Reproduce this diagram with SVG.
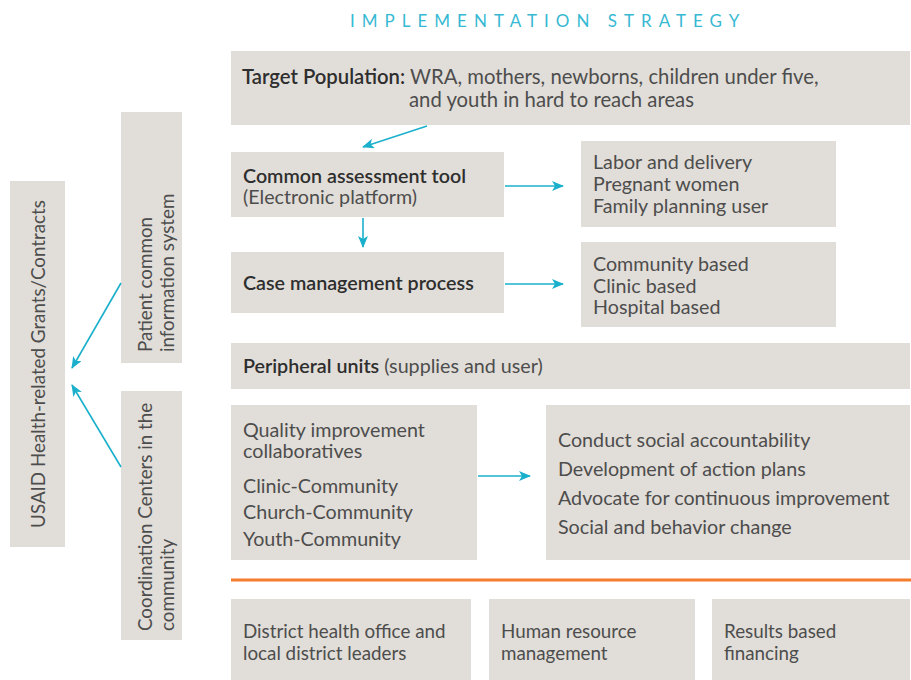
<svg xmlns="http://www.w3.org/2000/svg" width="911" height="680" viewBox="0 0 911 680">
  <style>
    .box { fill: #e1ddd8; }
    .t { font-family: Lato, "Open Sans", sans-serif; font-size: 19.7px; fill: #4d4d4d; }
    .lg { font-size: 20.3px; }
    .sm { font-size: 18.8px; }
    .b { font-weight: 600; fill: #2e2e2e; }
    .title { font-family: Lato, "Open Sans", sans-serif; font-size: 17px; fill: #37b9d3; letter-spacing: 7px; }
    .arrow { stroke: #1ab0cc; stroke-width: 1.6; fill: none; marker-end: url(#head); }
  </style>
  <defs>
    <marker id="head" viewBox="0 0 12 10" refX="11" refY="5" markerWidth="12" markerHeight="10" markerUnits="userSpaceOnUse" orient="auto">
      <path d="M0,0 L12,5 L0,10 L3,5 Z" fill="#1ab0cc"/>
    </marker>
  </defs>
  <rect width="911" height="680" fill="#ffffff"/>

  <text class="title" x="350" y="27">IMPLEMENTATION STRATEGY</text>

  <g id="target-population">
    <rect class="box" x="231" y="51" width="679" height="74"/>
    <text class="t lg" x="242" y="84"><tspan class="b">Target Population:</tspan> WRA, mothers, newborns, children under five,</text>
    <text class="t lg" x="409" y="107">and youth in hard to reach areas</text>
  </g>

  <g id="assessment-tool">
    <rect class="box" x="231" y="152" width="273" height="65"/>
    <text class="t b" x="243" y="183">Common assessment tool</text>
    <text class="t" x="243" y="204">(Electronic platform)</text>
  </g>

  <g id="user-types">
    <rect class="box" x="581" y="141" width="255" height="86"/>
    <text class="t" x="593" y="169">Labor and delivery</text>
    <text class="t" x="593" y="191">Pregnant women</text>
    <text class="t" x="593" y="213">Family planning user</text>
  </g>

  <g id="case-management">
    <rect class="box" x="231" y="252" width="273" height="61"/>
    <text class="t b" x="243" y="290">Case management process</text>
  </g>

  <g id="care-levels">
    <rect class="box" x="581" y="242" width="255" height="85"/>
    <text class="t" x="593" y="271">Community based</text>
    <text class="t" x="593" y="293">Clinic based</text>
    <text class="t" x="593" y="314">Hospital based</text>
  </g>

  <g id="peripheral-units">
    <rect class="box" x="231" y="343" width="679" height="46"/>
    <text class="t" x="243" y="373"><tspan class="b">Peripheral units</tspan> (supplies and user)</text>
  </g>

  <g id="quality-improvement">
    <rect class="box" x="231" y="405" width="246" height="155"/>
    <text class="t" x="243" y="437">Quality improvement</text>
    <text class="t" x="243" y="458">collaboratives</text>
    <text class="t" x="243" y="493">Clinic-Community</text>
    <text class="t" x="243" y="519">Church-Community</text>
    <text class="t" x="243" y="546">Youth-Community</text>
  </g>

  <g id="accountability">
    <rect class="box" x="546" y="405" width="364" height="155"/>
    <text class="t" x="558" y="447">Conduct social accountability</text>
    <text class="t" x="558" y="476">Development of action plans</text>
    <text class="t" x="558" y="505">Advocate for continuous improvement</text>
    <text class="t" x="558" y="534">Social and behavior change</text>
  </g>

  <line x1="231" y1="580" x2="911" y2="580" stroke="#f47d2c" stroke-width="3"/>

  <g id="district-health">
    <rect class="box" x="231" y="599" width="240" height="81"/>
    <text class="t sm" x="243" y="638">District health office and</text>
    <text class="t sm" x="243" y="660">local district leaders</text>
  </g>

  <g id="human-resources">
    <rect class="box" x="489" y="599" width="206" height="81"/>
    <text class="t sm" x="501" y="638">Human resource</text>
    <text class="t sm" x="501" y="660">management</text>
  </g>

  <g id="results-financing">
    <rect class="box" x="712" y="599" width="198" height="81"/>
    <text class="t sm" x="724" y="638">Results based</text>
    <text class="t sm" x="724" y="660">financing</text>
  </g>

  <g id="usaid-grants">
    <rect class="box" x="10" y="181" width="55" height="366"/>
    <text class="t sm" transform="translate(45,364) rotate(-90)" text-anchor="middle">USAID Health-related Grants/Contracts</text>
  </g>

  <g id="patient-information">
    <rect class="box" x="121" y="112" width="61" height="251"/>
    <text class="t sm" transform="translate(152,352) rotate(-90)">Patient common</text>
    <text class="t sm" transform="translate(174,352) rotate(-90)">information system</text>
  </g>

  <g id="coordination-centers">
    <rect class="box" x="121" y="391" width="61" height="249"/>
    <text class="t sm" transform="translate(152,631) rotate(-90)">Coordination Centers in the</text>
    <text class="t sm" transform="translate(174,631) rotate(-90)">community</text>
  </g>

  <g id="connectors">
    <line class="arrow" x1="427" y1="126" x2="363" y2="147"/>
    <line class="arrow" x1="363" y1="218" x2="363" y2="247"/>
    <line class="arrow" x1="505" y1="186" x2="563" y2="186"/>
    <line class="arrow" x1="505" y1="284" x2="563" y2="284"/>
    <line class="arrow" x1="478" y1="476" x2="530" y2="476"/>
    <line class="arrow" x1="121" y1="283" x2="72" y2="368"/>
    <line class="arrow" x1="121" y1="467" x2="72" y2="385"/>
  </g>
</svg>
